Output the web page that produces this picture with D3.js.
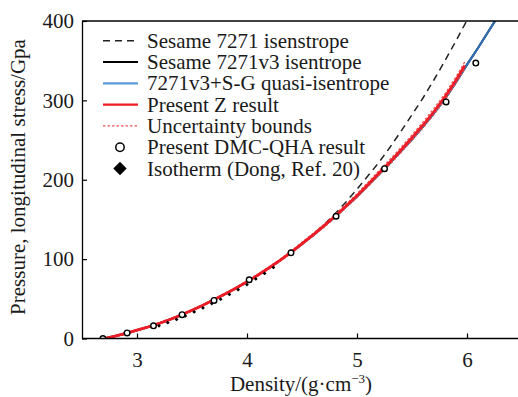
<!DOCTYPE html>
<html><head><meta charset="utf-8">
<script src="https://cdn.jsdelivr.net/npm/d3@7"></script>
<style>
body{margin:0;background:#fff}
svg{display:block}
text{font-family:"Liberation Serif","Times New Roman",serif;fill:#1a1a1a}
</style>
</head><body>
<svg id="chart" width="518" height="397"></svg>
<script>
// ---- data ----
const curveDensity = [2.70,2.80,2.90,3.00,3.10,3.20,3.30,3.40,3.50,3.60,3.70,3.80,3.90,4.00,4.10,4.20,4.30,4.40,4.50,4.60,4.70,4.80,4.90,5.00,5.10,5.20,5.30,5.40,5.50,5.60,5.70,5.80,5.90,6.00,6.10,6.20,6.30];
const sgQuasiPressure = [0,3,6.5,10.5,14.5,19,24,29.5,35.5,42,49,56,63.5,71.5,80,89,98.5,108.5,119,130,141.5,153.5,166,179,193,207,221,236,251,267,284,302,323,345,366,388,410];
const sesameV3Pressure = [0,3,6.5,10.5,14.5,19,24,29.5,35.5,42,49,56,63.5,71.5,80,89,98.5,108.5,119,130,141.5,153.5,166,179,193,207,221,236,251,267,284,302,323,345,366,388,410];
const sesameDensity = [2.70,2.90,3.10,3.30,3.50,3.70,3.90,4.10,4.30,4.50,4.60,4.70,4.80,4.90,5.00,5.10,5.20,5.30,5.40,5.50,5.60,5.70,5.80,5.90,6.00,6.05];
const sesamePressure = [0,6.5,14.5,24,35.5,49,63.5,80,98.5,119.5,131,143.5,157,172,188,205,222,241,261,282,303,326,350,375,401,414];
const zDensity = [2.70,2.80,2.90,3.00,3.10,3.20,3.30,3.40,3.50,3.60,3.70,3.80,3.90,4.00,4.10,4.20,4.30,4.40,4.50,4.60,4.70,4.80,4.90,5.00,5.10,5.20,5.30,5.40,5.50,5.60,5.70,5.80,5.90,5.98];
const zPressure = [0,3,6.5,10.5,14.5,19,24,29.5,35.5,42,49,56,63.5,71.5,80,89,98.5,108.5,119.5,130.5,142,154,167,180,194,208.5,222.5,237.5,253,269,286,304.5,325.5,344];
const zUpper = [0.8,4,7.5,11.5,15.5,20,25,30.5,36.5,43,50,57.2,64.8,72.8,81.4,90.5,100,110.2,121.2,132.4,144,156.2,169.3,182.5,196.7,211.3,225.6,240.8,256.5,272.8,290,308.5,329.7,348.5];
const zLower = [0,2,5.5,9.5,13.5,18,23,28.5,34.5,41,48,54.8,62.2,70.2,78.6,87.5,97,106.8,117.8,128.6,140,151.8,164.7,177.5,191.3,205.7,219.4,234.2,249.5,265.2,282,300.5,321.3,339.5];
const dmcDensity = [2.69,2.91,3.15,3.41,3.70,4.02,4.40,4.81,5.25,5.81,6.08];
const dmcPressure = [0,7,16,30,48,74,108,154,214,298,347];
const isoDensity = [3.20,3.28,3.36,3.44,3.52,3.60,3.68,3.76,3.84,3.92,4.00,4.08,4.16,4.24];
const isoPressure = [16,20,24,28.5,33.5,38.5,44,49.5,55.5,61.5,68,75,82,89.5];
const xTicks = [3,4,5,6];
const yTicks = [0,100,200,300,400];
const legendLabels = ["Sesame 7271 isenstrope","Sesame 7271v3 isentrope","7271v3+S-G quasi-isentrope","Present Z result","Uncertainty bounds","Present DMC-QHA result","Isotherm (Dong, Ref. 20)"];

// ---- layout ----
const svg = d3.select("#chart");
const L = 82, T = 21, B = 338.5, R = 522;
const x = d3.scaleLinear().domain([2.5, 6.5]).range([L, R]);
const y = d3.scaleLinear().domain([0, 400]).range([B, T]);
const RED = "#ee1c25", BLUE = "#2f6fb5", FONT = 21;

svg.append("clipPath").attr("id","clip").append("rect")
  .attr("x", L).attr("y", T).attr("width", 518 - L).attr("height", B - T);

const plot = svg.append("g").attr("clip-path","url(#clip)");
const line = (xs, ys) => d3.line().x((d,i)=>x(xs[i])).y((d,i)=>y(ys[i]))(xs);

plot.append("path").attr("d", line(curveDensity, sesameV3Pressure))
  .attr("fill","none").attr("stroke","#000").attr("stroke-width",2);
plot.append("path").attr("d", line(sesameDensity, sesamePressure))
  .attr("fill","none").attr("stroke","#222").attr("stroke-width",1.5).attr("stroke-dasharray","7,5");
plot.append("path").attr("d", line(curveDensity, sgQuasiPressure))
  .attr("fill","none").attr("stroke",BLUE).attr("stroke-width",2.2);
[zUpper, zLower].forEach(b => plot.append("path").attr("d", line(zDensity, b))
  .attr("fill","none").attr("stroke","#f05050").attr("stroke-width",1.2).attr("stroke-dasharray","2.5,2"));
plot.append("path").attr("d", line(zDensity, zPressure))
  .attr("fill","none").attr("stroke",RED).attr("stroke-width",2.7);
plot.selectAll(".iso").data(isoDensity).enter().append("path")
  .attr("d", d3.symbol(d3.symbolSquare, 7)())
  .attr("transform",(d,i)=>`translate(${x(d)},${y(isoPressure[i])}) rotate(45)`)
  .attr("fill","#000");
plot.selectAll(".dmc").data(dmcDensity).enter().append("circle")
  .attr("cx", d=>x(d)).attr("cy",(d,i)=>y(dmcPressure[i])).attr("r",2.8)
  .attr("fill","#fff").attr("stroke","#000").attr("stroke-width",1.4);

// ---- axes ----
const xAxis = svg.append("g").attr("transform",`translate(0,${B})`)
  .call(d3.axisBottom(x).tickValues(xTicks).tickSizeInner(-5).tickSizeOuter(0).tickPadding(14).tickFormat(d3.format("d")));
const yAxis = svg.append("g").attr("transform",`translate(${L},0)`)
  .call(d3.axisLeft(y).tickValues(yTicks).tickSizeInner(-5).tickSizeOuter(0).tickPadding(8).tickFormat(d3.format("d")));
[xAxis, yAxis].forEach(a => {
  a.selectAll("path.domain").attr("stroke","#000").attr("stroke-width",1.3);
  a.selectAll(".tick line").attr("stroke","#000").attr("stroke-width",1.2);
  a.selectAll("text").style("font-family",'"Liberation Serif",serif').style("font-size",FONT+"px").attr("fill","#1a1a1a");
});
xAxis.select("path.domain").attr("d", `M${L},0H518`);
svg.append("line").attr("x1",L).attr("x2",518).attr("y1",T).attr("y2",T).attr("stroke","#000").attr("stroke-width",1.3);

// axis titles
const xt = svg.append("text").attr("x",301).attr("y",391).attr("text-anchor","middle").style("font-size",FONT+"px");
xt.append("tspan").text("Density/(g·cm");
xt.append("tspan").text("−3").attr("dy",-8).style("font-size","13px");
xt.append("tspan").text(")").attr("dy",8);
svg.append("text").attr("transform","translate(25,177) rotate(-90)").attr("text-anchor","middle")
  .style("font-size",FONT+"px").text("Pressure, longitudinal stress/Gpa");

// ---- legend ----
const lg = svg.append("g");
const rowY = i => 40.7 + i*21.3;
legendLabels.forEach((t,i)=>{
  lg.append("text").attr("x",147).attr("y",rowY(i)+7).style("font-size",FONT+"px").text(t);
});
lg.append("line").attr("x1",103).attr("x2",138).attr("y1",rowY(0)).attr("y2",rowY(0)).attr("stroke","#222").attr("stroke-width",1.5).attr("stroke-dasharray","7,5");
lg.append("line").attr("x1",103).attr("x2",138).attr("y1",rowY(1)).attr("y2",rowY(1)).attr("stroke","#000").attr("stroke-width",2);
lg.append("line").attr("x1",103).attr("x2",138).attr("y1",rowY(2)).attr("y2",rowY(2)).attr("stroke","#5b9bd5").attr("stroke-width",2.2);
lg.append("line").attr("x1",103).attr("x2",138).attr("y1",rowY(3)).attr("y2",rowY(3)).attr("stroke",RED).attr("stroke-width",2.2);
lg.append("line").attr("x1",103).attr("x2",138).attr("y1",rowY(4)).attr("y2",rowY(4)).attr("stroke","#f05050").attr("stroke-width",1.3).attr("stroke-dasharray","2.5,2");
lg.append("circle").attr("cx",120).attr("cy",rowY(5)).attr("r",4.2).attr("fill","#fff").attr("stroke","#000").attr("stroke-width",1.5);
lg.append("path").attr("d",d3.symbol(d3.symbolSquare,90)()).attr("transform",`translate(120,${rowY(6)}) rotate(45)`).attr("fill","#000");
</script>
</body></html>
